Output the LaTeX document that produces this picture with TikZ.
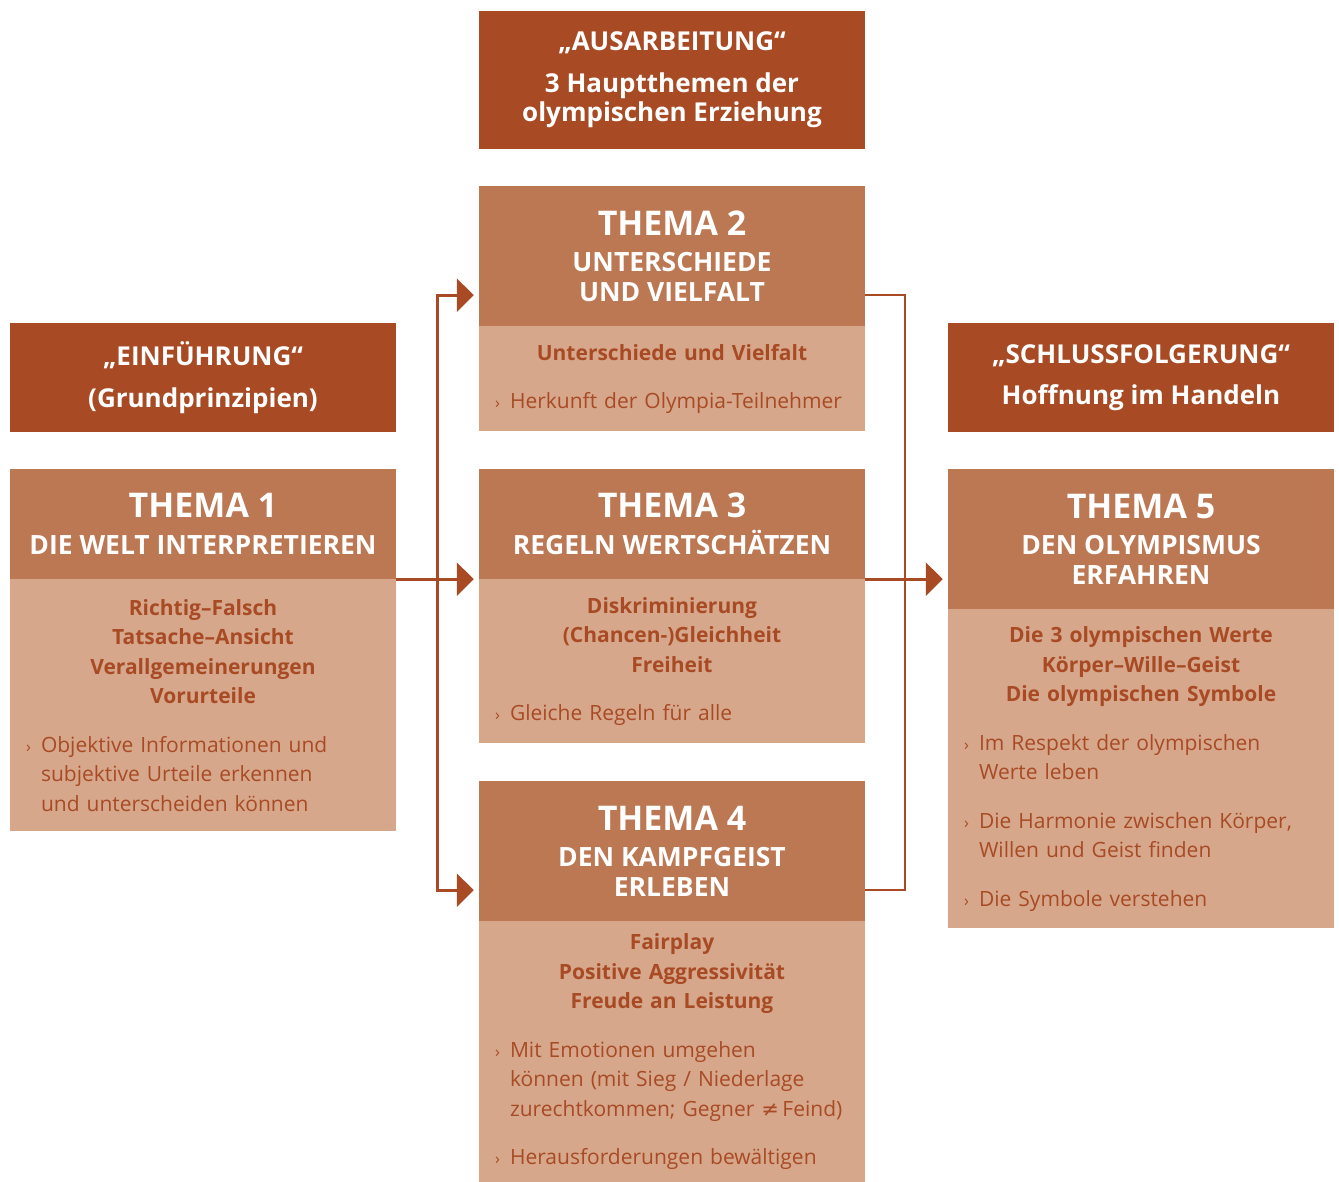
\documentclass[tikz,border=0pt]{standalone}
\usepackage{fontspec}
\setmainfont{Open Sans}
\newfontfamily\symfont{DejaVu Sans}
\usetikzlibrary{positioning,arrows.meta}
\definecolor{rust}{HTML}{A84B25}
\definecolor{clay}{HTML}{BC7753}
\definecolor{sand}{HTML}{D6A78B}
\newcommand\thema[1]{{\fontsize{34}{34}\selectfont THEMA #1}\\[7pt]}
\newcommand\keyline[1]{{\centering\bfseries #1\par}\vspace{19pt}}
\newcommand\point[1]{\par{\raggedright\let\\\newline\hangindent=15pt\hangafter=1\noindent\makebox[15pt][l]{\fontsize{16}{16}\selectfont ›}#1\par}}

\begin{document}
\begin{tikzpicture}[x=1pt,y=-1pt,
  stage/.style={fill=rust,text=white,font=\bfseries\fontsize{26}{29.5}\selectfont,minimum width=386,minimum height=109,align=center,inner sep=0},
  head/.style={fill=clay,text=white,font=\bfseries\fontsize{26.5}{29.5}\selectfont,minimum width=386,align=center,inner sep=0},
  body/.style={fill=sand,text=rust,font=\fontsize{21}{29.5}\selectfont,minimum width=386,text width=354,align=left,inner xsep=16,inner ysep=0},
  flow/.style={draw=rust,line width=3,shorten >=5,-{Triangle[length=17,width=33]}},
  link/.style={draw=rust,line width=2.5}]
\useasboundingbox (0,0) rectangle (1339,1182);

\node [stage,minimum height=138] (aus) at (672,80) {„AUSARBEITUNG“\\[12pt]3 Hauptthemen der\\olympischen Erziehung};
\node [stage] (ein) at (203,377.5) {„EINFÜHRUNG“\\[12pt](Grundprinzipien)};
\node [stage] (schluss) at (1141,377.5) {„SCHLUSSFOLGERUNG“\\[12pt]Hoffnung im Handeln};

\node [head,minimum height=110] (th1) at (203,524) {\thema{1}DIE WELT INTERPRETIEREN};
\node [head,minimum height=140] (th2) at (672,256) {\thema{2}UNTERSCHIEDE\\UND VIELFALT};
\node [head,minimum height=110] (th3) at (672,524) {\thema{3}REGELN WERTSCHÄTZEN};
\node [head,minimum height=140] (th4) at (672,851) {\thema{4}DEN KAMPFGEIST\\ERLEBEN};
\node [head,minimum height=140] (th5) at (1141,539) {\thema{5}DEN OLYMPISMUS\\ERFAHREN};

\node [body,minimum height=252,below=0 of th1] (th1b) {\keyline{Richtig–Falsch\\Tatsache–Ansicht\\Verallgemeinerungen\\Vorurteile}%
  \point{Objektive Informationen und\\subjektive Urteile erkennen\\und unterscheiden können}};
\node [body,minimum height=105,below=0 of th2] (th2b) {\keyline{Unterschiede und Vielfalt}%
  \point{Herkunft der Olympia-Teilnehmer}};
\node [body,minimum height=164,below=0 of th3] (th3b) {\keyline{Diskriminierung\\(Chancen-)Gleichheit\\Freiheit}%
  \point{Gleiche Regeln für alle}};
\node [body,minimum height=261,below=0 of th4] (th4b) {\keyline{Fairplay\\Positive Aggressivität\\Freude an Leistung}%
  \point{Mit Emotionen umgehen\\können (mit Sieg / Niederlage\\zurechtkommen; Gegner {\symfont ≠}\,Feind)}\vspace{19pt}%
  \point{Herausforderungen bewältigen}};
\node [body,minimum height=319,below=0 of th5] (th5b) {\keyline{Die 3 olympischen Werte\\Körper–Wille–Geist\\Die olympischen Symbole}%
  \point{Im Respekt der olympischen\\Werte leben}\vspace{19pt}%
  \point{Die Harmonie zwischen Körper,\\Willen und Geist finden}\vspace{19pt}%
  \point{Die Symbole verstehen}};

% connectors
\coordinate (fork) at (437,578);
\coordinate (merge) at (905,578);
\draw [flow] (th1.south east) -- (th3.south west);
\foreach \t in {th2,th4}
  \draw [flow] (fork) |- ([yshift=31]\t.south west);
\draw [link] ([yshift=31]th2.south east) -| (merge) |- ([yshift=31]th4.south east);
\draw [flow] (th3.south east) -- (th3.south east -| th5.west);
\end{tikzpicture}
\end{document}
